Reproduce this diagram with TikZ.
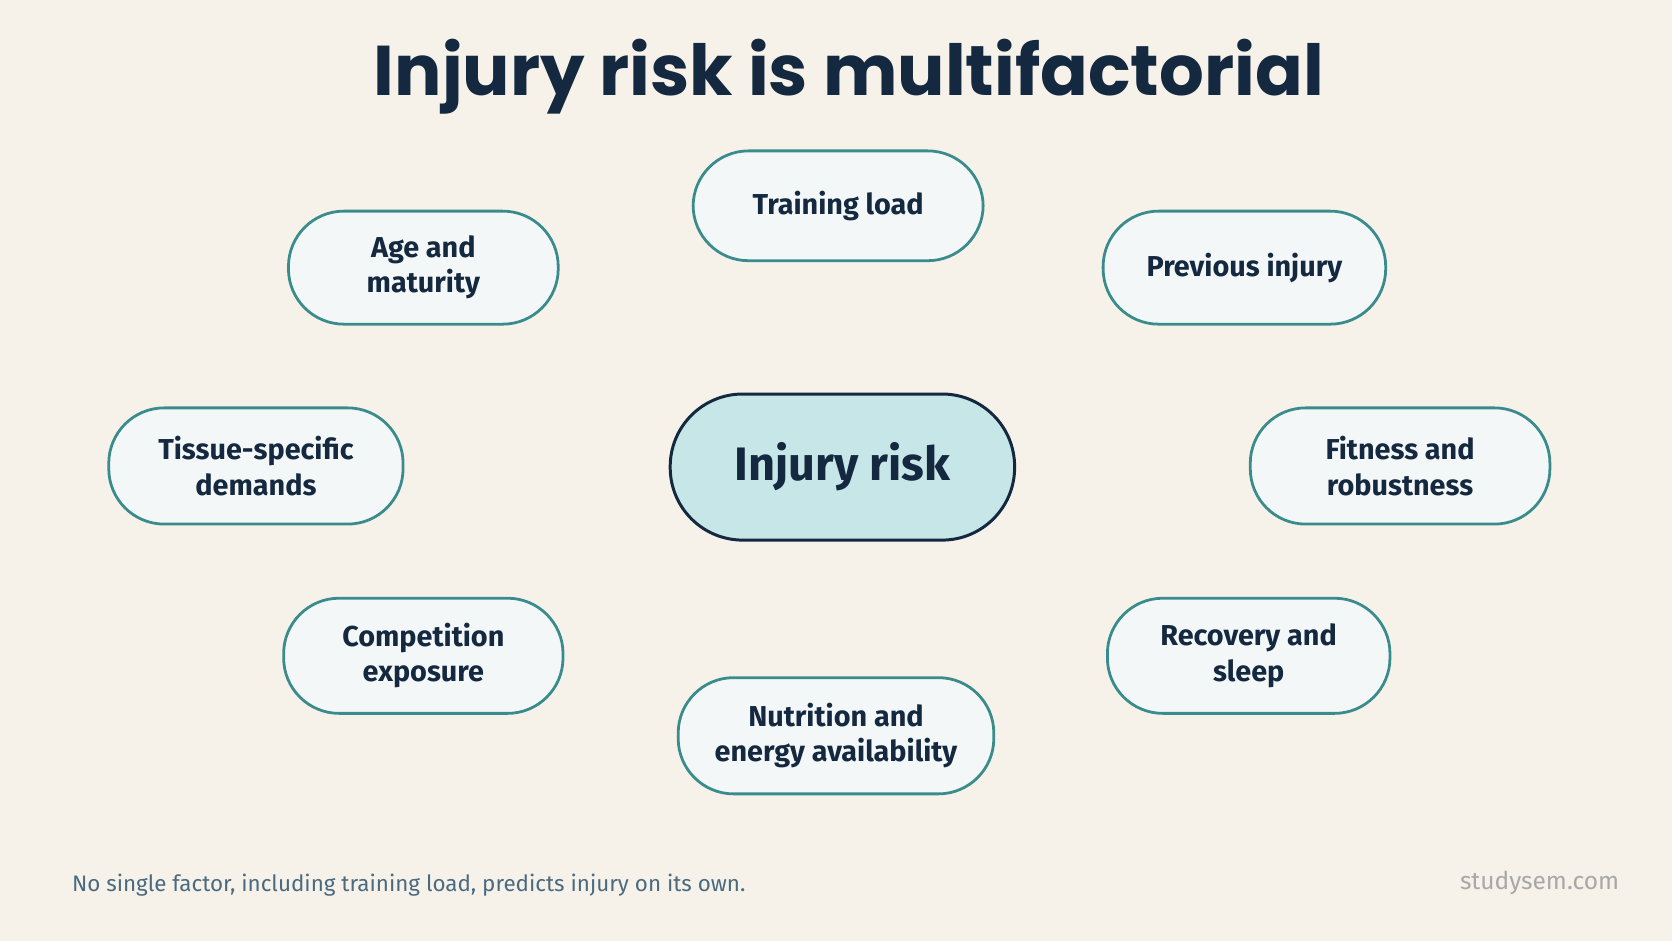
\documentclass[tikz,border=0pt]{standalone}
\usepackage{fontspec}
\setmainfont{Fira Sans}
\newfontfamily\titlefont{Poppins}
\usetikzlibrary{backgrounds}
\definecolor{bg}{HTML}{F6F2EA}
\definecolor{navy}{HTML}{14283F}
\definecolor{teal}{HTML}{3A8C8C}
\definecolor{nfill}{HTML}{F3F7F8}
\definecolor{cfill}{HTML}{C7E6E8}
\definecolor{dashc}{HTML}{9CCCC8}
\definecolor{foot}{HTML}{4A6A80}
\definecolor{mark}{HTML}{A8A8A8}
\begin{document}
\begin{tikzpicture}[x=1pt,y=-1pt,
  fac/.style={draw=teal,line width=2.6pt,fill=nfill,rounded corners=52pt,align=center,
    text=navy,font=\fontsize{27}{33}\selectfont\bfseries,inner sep=0pt,minimum height=106pt},
  link/.style={draw=teal,line width=2.4pt}]
\fill[bg] (0,0) rectangle (1568,882);
\useasboundingbox (0,0) rectangle (1568,882);
\node[text=navy,font=\titlefont\fontsize{66}{70}\selectfont\bfseries] (title) at (796,72) {Injury risk is multifactorial};
\node[draw=navy,line width=2.8pt,fill=cfill,rounded corners=68pt,minimum width=323pt,minimum height=137pt,
  text=navy,font=\fontsize{44}{50}\selectfont\bfseries] (c) at (790,438) {Injury risk};
\node[fac,minimum width=272pt,minimum height=103pt] (tl) at (786,193) {Training load};
\node[fac,minimum width=253pt] (am) at (397,251) {Age and\\maturity};
\node[fac,minimum width=265pt] (pi) at (1167,251) {Previous injury};
\node[fac,minimum width=276pt,minimum height=109pt] (ts) at (240,437) {Tissue-specific\\demands};
\node[fac,minimum width=281pt,minimum height=109pt] (fr) at (1313,437) {Fitness and\\robustness};
\node[fac,minimum width=262pt,minimum height=108pt] (ce) at (397,615) {Competition\\exposure};
\node[fac,minimum width=265pt,minimum height=108pt] (rs) at (1171,615) {Recovery and\\sleep};
\node[fac,minimum width=296pt,minimum height=109pt] (ne) at (784,690) {Nutrition and\\energy availability};
\begin{scope}[on background layer]
\fill[bg] (0,0) rectangle (1568,882);
\draw[dashc,line width=1.3pt,dash pattern=on 5pt off 4pt] (786,437) ellipse [x radius=555pt,y radius=255pt];
\draw[link] (c) -- (tl);
\draw[link] (c) -- (am);
\draw[link] (c) -- (pi);
\draw[link] (c) -- (ts);
\draw[link] (c) -- (fr);
\draw[link] (c) -- (ce);
\draw[link] (c) -- (rs);
\draw[link] (c) -- (ne);
\end{scope}
\node[anchor=west,text=foot,font=\fontsize{21}{24}\selectfont] (note) at (64,830) {No single factor, including training load, predicts injury on its own.};
\node[anchor=east,text=mark,font=\fontsize{23}{26}\selectfont] (brand) at (1522,828) {studysem.com};
\end{tikzpicture}
\end{document}
